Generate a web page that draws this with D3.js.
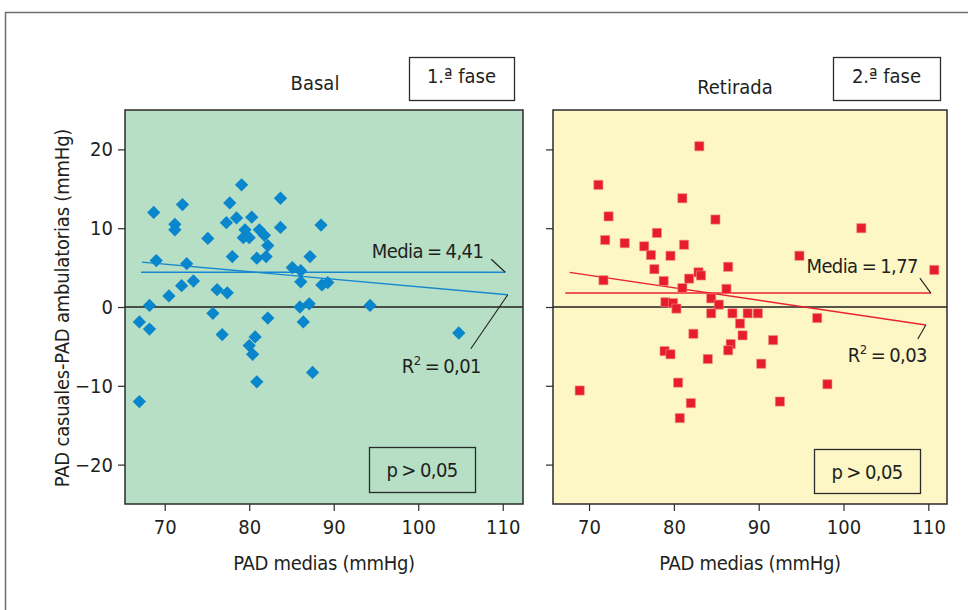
<!DOCTYPE html>
<html>
<head>
<meta charset="utf-8">
<script src="https://cdn.jsdelivr.net/npm/d3@7"></script>
<style>
  body { margin: 0; background: #fff; }
  svg { display: block; }
  text { font-family: "Liberation Sans Narrow", "Arial Narrow", "DejaVu Sans Condensed", sans-serif; fill: #231f20; }
  .ann { letter-spacing: -0.6px; word-spacing: -1px; }
</style>
</head>
<body>
<div id="chart"></div>
<script>
// Data: [PAD media, PAD casual - PAD ambulatoria]
const basalPoints = [
  [68.7, 12.0], [72.1, 13.0], [71.2, 10.5], [71.2, 9.8], [69.0, 5.9], [72.6, 5.5],
  [75.1, 8.7], [79.1, 15.5], [77.7, 13.2], [77.3, 10.7], [78.5, 11.3], [80.3, 11.4],
  [79.5, 9.8], [79.3, 8.8], [80.0, 8.8], [81.2, 9.8], [81.8, 9.1], [82.2, 7.8],
  [78.0, 6.4], [80.9, 6.2], [82.0, 6.4], [83.7, 13.8], [83.7, 10.1], [88.5, 10.4],
  [87.2, 6.4], [85.1, 5.0], [86.1, 4.6], [86.1, 3.2], [88.6, 2.8], [89.3, 3.1],
  [73.4, 3.3], [72.0, 2.7], [70.5, 1.4], [76.2, 2.2], [77.4, 1.8], [68.2, 0.2],
  [75.7, -0.8], [86.0, 0.0], [87.1, 0.4], [67.0, -1.9], [68.2, -2.8], [76.8, -3.5],
  [80.7, -3.8], [80.0, -4.9], [80.4, -6.0], [82.2, -1.4], [86.4, -1.9], [87.5, -8.3],
  [80.9, -9.5], [67.0, -12.0], [94.3, 0.2], [104.8, -3.3]
];
const retiradaPoints = [
  [83.0, 20.4], [71.1, 15.5], [81.0, 13.8], [72.3, 11.5], [84.9, 11.1], [71.9, 8.5],
  [74.2, 8.1], [78.0, 9.4], [76.5, 7.7], [81.2, 7.9], [77.3, 6.6], [79.6, 6.5],
  [77.7, 4.8], [71.7, 3.4], [78.8, 3.3], [81.8, 3.6], [82.9, 4.4], [83.2, 4.0],
  [86.4, 5.1], [81.0, 2.4], [86.2, 2.3], [84.4, 1.1], [85.3, 0.3], [79.0, 0.6],
  [79.9, 0.5], [80.3, -0.2], [86.9, -0.8], [88.7, -0.8], [84.4, -0.8], [89.9, -0.8],
  [87.8, -2.1], [88.1, -3.6], [86.7, -4.7], [86.4, -5.5], [82.3, -3.4], [78.9, -5.6],
  [79.6, -6.0], [84.0, -6.6], [80.5, -9.6], [82.0, -12.2], [80.7, -14.1], [68.9, -10.6],
  [91.7, -4.2], [90.3, -7.2], [96.9, -1.4], [98.1, -9.8], [92.5, -12.0], [102.1, 10.0],
  [94.8, 6.5], [110.7, 4.7]
];

// Fitted lines and means
const basalFit = [[67.3, 5.7], [110.6, 1.56]];
const retiradaFit = [[67.7, 4.4], [109.7, -2.28]];
const basalMean = 4.41, retiradaMean = 1.77;
const meanSpan = [67.2, 110.3];

// Labels
const panelTitles = ["Basal", "Retirada"];
const phaseLabels = ["1.ª fase", "2.ª fase"];
const meanLabels = ["Media = 4,41", "Media = 1,77"];
const r2Values = ["0,01", "0,03"];
const pLabel = "p > 0,05";
const yTicks = [-20, -10, 0, 10, 20];
const xTicks = [70, 80, 90, 100, 110];
const xTitle = "PAD medias (mmHg)";
const yTitle = "PAD casuales-PAD ambulatorias (mmHg)";

const W = 968, H = 610;
const svg = d3.select("#chart").append("svg")
    .attr("width", W).attr("height", H);

// outer frame (runs off the right and bottom edges)
svg.append("rect")
    .attr("x", 5.5).attr("y", 12.5)
    .attr("width", 1000).attr("height", 700)
    .attr("fill", "none").attr("stroke", "#6d6e70").attr("stroke-width", 1.5);

const panels = [
  {left: 125, width: 398, xDomain: [65.3, 112.4], points: basalPoints, fit: basalFit, mean: basalMean,
   bg: "#b6dfc5", color: "#0a86cd", lineColor: "#1688cf", marker: "diamond",
   titleX: 315, titleY: 90, box: [409, 57, 105, 43], pBox: [369, 447, 106, 45],
   mediaOff: [-22, -14], mediaLead: [-14, -13], r2Off: [-110, 78], r2Lead: [-37, 54]},
  {left: 553, width: 394, xDomain: [65.75, 112.2], points: retiradaPoints, fit: retiradaFit, mean: retiradaMean,
   bg: "#fdf7c5", color: "#e61e2b", lineColor: "#e8232f", marker: "square",
   titleX: 735, titleY: 94, box: [833, 57, 107, 43], pBox: [814, 449, 106, 44],
   mediaOff: [-13, -20], mediaLead: [-11, -15], r2Off: [-82, 37], r2Lead: [-8, 14]}
];

const plotTop = 110, plotH = 394;
const y = d3.scaleLinear().domain([-25, 25]).range([plotH, 0]);

panels.forEach((p, i) => {
  const x = d3.scaleLinear().domain(p.xDomain).range([0, p.width]);
  const g = svg.append("g").attr("transform", `translate(${p.left},${plotTop})`);

  g.append("rect")
      .attr("width", p.width).attr("height", plotH)
      .attr("fill", p.bg);

  // zero line
  g.append("line")
      .attr("x1", 0).attr("x2", p.width)
      .attr("y1", y(0)).attr("y2", y(0))
      .attr("stroke", "#231f20").attr("stroke-width", 1.3);

  // mean line
  g.append("line")
      .attr("x1", x(meanSpan[0])).attr("x2", x(meanSpan[1]))
      .attr("y1", y(p.mean)).attr("y2", y(p.mean))
      .attr("stroke", p.lineColor).attr("stroke-width", 1.4);

  // regression line
  g.append("path")
      .datum(p.fit)
      .attr("fill", "none")
      .attr("stroke", p.lineColor).attr("stroke-width", 1.4)
      .attr("d", d3.line().x(d => x(d[0])).y(d => y(d[1])));

  // points
  if (p.marker === "diamond") {
    g.selectAll(".pt")
      .data(p.points)
      .enter().append("path")
        .attr("class", "pt")
        .attr("d", d3.symbol(d3.symbolSquare, 88))
        .attr("transform", d => `translate(${x(d[0])},${y(d[1])}) rotate(45)`)
        .attr("fill", p.color);
  } else {
    g.selectAll(".pt")
      .data(p.points)
      .enter().append("path")
        .attr("class", "pt")
        .attr("d", d3.symbol(d3.symbolSquare, 84))
        .attr("transform", d => `translate(${x(d[0])},${y(d[1])})`)
        .attr("fill", p.color)
        .attr("stroke", "#f58a8a").attr("stroke-width", 0.6);
  }

  // mean annotation
  const mx = x(meanSpan[1]), my = y(p.mean);
  g.append("line")
      .attr("x1", mx).attr("y1", my)
      .attr("x2", mx + p.mediaLead[0]).attr("y2", my + p.mediaLead[1])
      .attr("stroke", "#231f20").attr("stroke-width", 1.1);
  g.append("text")
      .attr("class", "ann")
      .attr("x", mx + p.mediaOff[0]).attr("y", my + p.mediaOff[1])
      .attr("text-anchor", "end")
      .style("font-size", "20px")
      .text(meanLabels[i]);

  // R2 annotation
  const fx = x(p.fit[1][0]), fy = y(p.fit[1][1]);
  g.append("line")
      .attr("x1", fx).attr("y1", fy)
      .attr("x2", fx + p.r2Lead[0]).attr("y2", fy + p.r2Lead[1])
      .attr("stroke", "#231f20").attr("stroke-width", 1.1);
  const r2 = g.append("text")
      .attr("class", "ann")
      .attr("x", fx + p.r2Off[0] + 4).attr("y", fy + p.r2Off[1])
      .style("font-size", "20px");
  r2.append("tspan").text("R");
  r2.append("tspan").attr("dy", -8).style("font-size", "13px").text("2");
  r2.append("tspan").attr("dy", 8).text(" = " + r2Values[i]);

  // border
  g.append("rect")
      .attr("width", p.width).attr("height", plotH)
      .attr("fill", "none").attr("stroke", "#2b2b2b").attr("stroke-width", 1.5);

  // axes
  const yAxis = d3.axisLeft(y).tickValues(yTicks).tickSize(7).tickPadding(5);
  if (i > 0) yAxis.tickFormat("");
  g.append("g").call(yAxis)
    .call(a => a.select(".domain").remove())
    .call(a => a.selectAll("line").attr("stroke", "#2b2b2b").attr("stroke-width", 1.2))
    .call(a => a.selectAll("text").style("font-size", "20px").attr("fill", "#231f20").attr("font-family", null));

  g.append("g").attr("transform", `translate(0,${plotH})`)
    .call(d3.axisBottom(x).tickValues(xTicks).tickSize(7).tickPadding(9))
    .call(a => a.select(".domain").remove())
    .call(a => a.selectAll("line").attr("stroke", "#2b2b2b").attr("stroke-width", 1.2))
    .call(a => a.selectAll("text").style("font-size", "20px").attr("fill", "#231f20").attr("font-family", null));

  // x title
  g.append("text")
      .attr("x", p.width / 2).attr("y", plotH + 66)
      .attr("text-anchor", "middle")
      .style("font-size", "20px")
      .style("letter-spacing", "-0.3px")
      .text(xTitle);

  // panel title and phase box
  svg.append("text")
      .attr("x", p.titleX).attr("y", p.titleY)
      .attr("text-anchor", "middle")
      .style("font-size", "20px")
      .text(panelTitles[i]);
  svg.append("rect")
      .attr("x", p.box[0] + 0.5).attr("y", p.box[1] + 0.5)
      .attr("width", p.box[2]).attr("height", p.box[3])
      .attr("fill", "#fff").attr("stroke", "#2b2b2b").attr("stroke-width", 1.3);
  svg.append("text")
      .attr("x", p.box[0] + p.box[2] / 2).attr("y", p.box[1] + 26)
      .attr("text-anchor", "middle")
      .style("font-size", "20px")
      .text(phaseLabels[i]);

  // p box
  svg.append("rect")
      .attr("x", p.pBox[0] + 0.5).attr("y", p.pBox[1] + 0.5)
      .attr("width", p.pBox[2]).attr("height", p.pBox[3])
      .attr("fill", "none").attr("stroke", "#2b2b2b").attr("stroke-width", 1.3);
  svg.append("text")
      .attr("class", "ann")
      .attr("x", p.pBox[0] + p.pBox[2] / 2).attr("y", p.pBox[1] + 30)
      .attr("text-anchor", "middle")
      .style("font-size", "20px")
      .text(pLabel);
});

// y title
svg.append("text")
    .attr("transform", "translate(69,308) rotate(-90)")
    .attr("text-anchor", "middle")
    .style("font-size", "20px")
    .style("letter-spacing", "-0.2px")
    .text(yTitle);
</script>
</body>
</html>
